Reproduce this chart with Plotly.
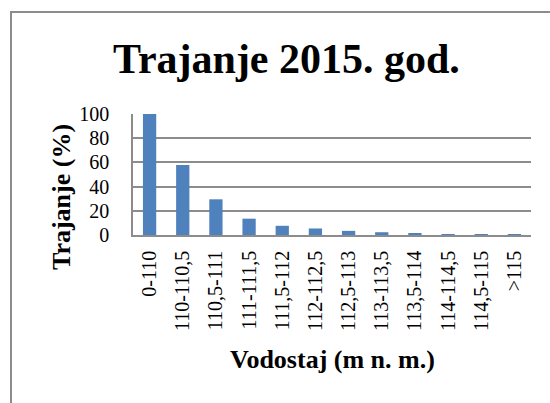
import plotly.graph_objects as go

categories = ["0-110", "110-110,5", "110,5-111", "111-111,5", "111,5-112", "112-112,5",
              "112,5-113", "113-113,5", "113,5-114", "114-114,5", "114,5-115", ">115"]
values = [100, 57.8, 29.5, 13.5, 7.6, 5.4, 3.4, 2.3, 1.1, 0.8, 0.3, 0.2]
y_ticks = [0, 20, 40, 60, 80, 100]

W, H = 550, 403
L, R, T, B = 133, 19, 114, 168
pw = W - L - R
ph = H - T - B

def px_x(x):
    return (x - L) / pw

def px_y(y):
    return (H - B - y) / ph

FONT = "Liberation Serif, Times New Roman, serif"

fig = go.Figure(go.Bar(x=categories, y=values, marker_color="#4F81BD",
                       marker_line_width=0))

fig.update_layout(
    width=W, height=H,
    margin=dict(l=L, r=R, t=T, b=B),
    paper_bgcolor="white", plot_bgcolor="white",
    bargap=0.6,
    showlegend=False,
    font=dict(family=FONT, color="black"),
    xaxis=dict(tickangle=-90, tickfont=dict(size=20, family=FONT), showgrid=False,
               showline=True, linecolor="#8c8c8c", linewidth=1.5, ticks="",
               ticklabelstandoff=6),
    yaxis=dict(range=[0, 100], tickvals=y_ticks, tickfont=dict(size=20, family=FONT),
               showgrid=True, gridcolor="#8c8c8c", gridwidth=1.5,
               showline=True, linecolor="#8c8c8c", linewidth=1.5, ticks="",
               ticklabelstandoff=18, zeroline=False),
    shapes=[dict(type="rect", xref="paper", yref="paper",
                 x0=px_x(11), y0=px_y(600), x1=px_x(700), y1=px_y(12),
                 line=dict(color="#8c8c8c", width=2), fillcolor="rgba(0,0,0,0)",
                 layer="below")],
    annotations=[
        dict(text="<b>Trajanje 2015. god.</b>", xref="paper", yref="paper",
             x=px_x(286), y=px_y(59), xanchor="center", yanchor="middle",
             showarrow=False, font=dict(size=42, family=FONT, color="black")),
        dict(text="<b>Trajanje (%)</b>", xref="paper", yref="paper",
             x=px_x(61), y=px_y(197), xanchor="center", yanchor="middle",
             textangle=-90, showarrow=False, font=dict(size=26, family=FONT, color="black")),
        dict(text="<b>Vodostaj (m n. m.)</b>", xref="paper", yref="paper",
             x=px_x(332), y=px_y(359), xanchor="center", yanchor="middle",
             showarrow=False, font=dict(size=26, family=FONT, color="black")),
    ],
)

fig.write_html("out.html", config={"displayModeBar": False},
               post_script="document.body.style.margin='0';")
